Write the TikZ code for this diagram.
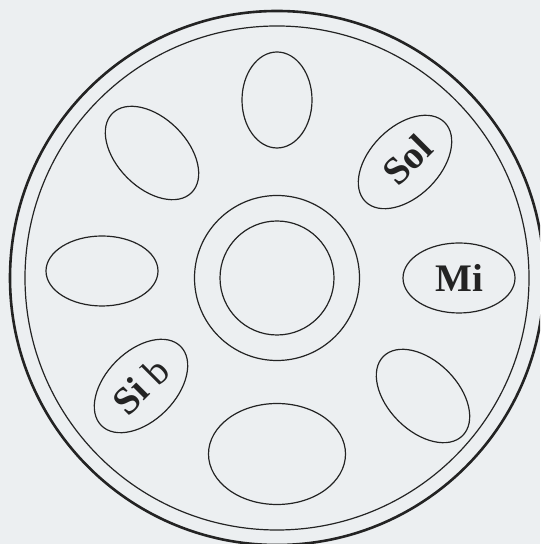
\documentclass[tikz,border=0pt]{standalone}
\usepackage{fontspec}
\setmainfont{Liberation Serif}
\usetikzlibrary{shapes.geometric}
\definecolor{paper}{RGB}{236,239,241}
\definecolor{ink}{RGB}{35,35,35}

\begin{document}
\begin{tikzpicture}[x=0.5pt, y=0.5pt,
	hole/.style={draw=ink, ellipse, line width=0.6pt, inner sep=0pt, minimum width=56pt, minimum height=35pt},
	note/.style={font=\fontsize{19.5}{22}\selectfont\bfseries, text=ink}]
	\fill[paper] (0,0) rectangle (540,544);
	\clip (0,0) rectangle (540,544);
	% drum body
	\coordinate (c) at (277,266);
	\draw[ink, line width=1.3pt] (c) circle[radius=267];
	\draw[ink, line width=0.6pt] (c) circle[radius=252];
	\draw[ink, line width=0.6pt] (c) circle[radius=82.5];
	\draw[ink, line width=0.6pt] (c) circle[radius=57];
	% tongues
	\node[hole, minimum width=35pt, minimum height=48pt] (top) at (277,444) {};
	\node[hole, note, rotate=45] (sol) at (405,382) {\hspace*{3pt}Sol};
	\node[hole, note] (mi) at (459,266) {Mi};
	\node[hole, rotate=-45] (lowright) at (423,148) {};
	\node[hole, minimum width=68.5pt, minimum height=50.5pt] (bottom) at (277,90) {};
	\node[hole, note, rotate=45] (sib) at (141,158) {\raisebox{-6pt}{Si {\mdseries b}}};
	\node[hole] (left) at (102,273) {};
	\node[hole, rotate=-45] (upleft) at (152,391) {};
\end{tikzpicture}
\end{document}
